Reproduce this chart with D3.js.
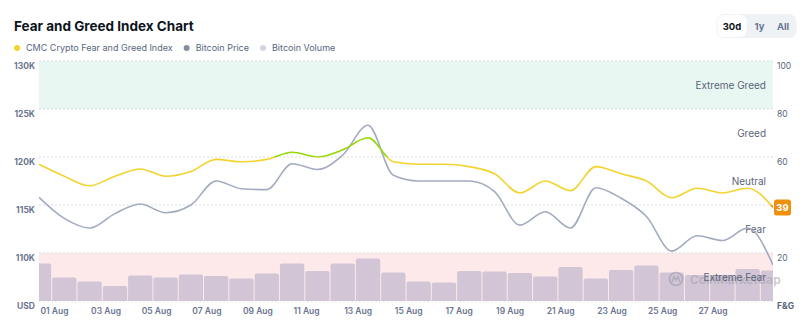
<!DOCTYPE html>
<html>
<head>
<meta charset="utf-8">
<script src="https://cdn.jsdelivr.net/npm/d3@7"></script>
<style>
  html, body { margin: 0; padding: 0; background: #fff; }
  svg { display: block; font-family: Inter, "Noto Sans", sans-serif; }
</style>
</head>
<body>
<svg id="chart" width="803" height="330"></svg>
<script>
// ---- data ----
const dates = ["2025-08-01","2025-08-02","2025-08-03","2025-08-04","2025-08-05","2025-08-06","2025-08-07","2025-08-08","2025-08-09","2025-08-10",
  "2025-08-11","2025-08-12","2025-08-13","2025-08-14","2025-08-15","2025-08-16","2025-08-17","2025-08-18","2025-08-19","2025-08-20",
  "2025-08-21","2025-08-22","2025-08-23","2025-08-24","2025-08-25","2025-08-26","2025-08-27","2025-08-28","2025-08-29","2025-08-30"];
const fearGreed = [57, 52, 48, 52, 55, 52, 54, 59, 58, 59, 62, 60, 63, 68, 58, 57, 57, 56, 53, 45, 50, 46, 56, 53, 50, 43, 47, 45, 47, 39];
const btcPrice = [115.8, 113.6, 112.6, 114.1, 115.1, 114.2, 115.0, 117.5, 116.7, 116.6, 119.3, 118.7, 120.2, 123.3, 118.1, 117.5, 117.5, 117.5, 116.4, 112.9,
  114.3, 112.6, 116.8, 115.7, 113.8, 110.2, 111.8, 111.3, 112.6, 108.75].map(v => v * 1000);
const btcVolumeB = [75, 47, 39, 30, 51, 47, 53, 50, 45, 55, 75, 60, 75, 85, 57, 39, 37, 60, 59, 56, 49, 68, 45, 62, 71, 57, 52, 52, 64, 61];
const priceTicks = [105000, 110000, 115000, 120000, 125000, 130000];
const fgTicks = [0, 20, 40, 60, 80, 100];
const zones = [
  { name: "Extreme Greed", lo: 80, hi: 100 },
  { name: "Greed", lo: 60, hi: 80 },
  { name: "Neutral", lo: 40, hi: 60 },
  { name: "Fear", lo: 20, hi: 40 },
  { name: "Extreme Fear", lo: 0, hi: 20 }
];
const legendItems = [
  { label: "CMC Crypto Fear and Greed Index", color: "#f3d42f" },
  { label: "Bitcoin Price", color: "#858ca2" },
  { label: "Bitcoin Volume", color: "#d3d7e3" }
];
const rangeButtons = ["30d", "1y", "All"];

// ---- layout ----
const svg = d3.select("#chart");
const L = 39, R = 773, T = 61, B = 301;
const parse = d3.utcParse("%Y-%m-%d");
const days = dates.map(parse);

const x = d3.scaleUtc().domain([days[0], days[days.length - 1]]).range([L, R]);
const yP = d3.scaleLinear().domain([105000, 130000]).range([B, T]);
const yF = d3.scaleLinear().domain([0, 100]).range([B, T]);
const yV = d3.scaleLinear().domain([0, 100]).range([B, B - 50]);
const last = fearGreed[fearGreed.length - 1];

// title
svg.append("text").attr("x", 14).attr("y", 31).text("Fear and Greed Index Chart")
  .attr("font-size", 13.5).attr("font-weight", 700).attr("fill", "#0d1421");

// legend
let lx = 17;
const legG = svg.append("g");
legendItems.forEach(it => {
  legG.append("circle").attr("cx", lx).attr("cy", 48).attr("r", 3).attr("fill", it.color);
  const t = legG.append("text").attr("x", lx + 9).attr("y", 51.2).text(it.label)
    .attr("font-size", 9).attr("fill", "#58667e");
  lx = lx + 9 + t.node().getComputedTextLength() + 14;
});

// range buttons
svg.append("rect").attr("x", 716.5).attr("y", 14).attr("width", 80).attr("height", 24).attr("rx", 7).attr("fill", "#eff2f5");
svg.append("rect").attr("x", 717.5).attr("y", 15).attr("width", 29).attr("height", 22).attr("rx", 6).attr("fill", "#fff");
const btnX = [732, 759.5, 783];
rangeButtons.forEach((b, i) => {
  svg.append("text").attr("x", btnX[i]).attr("y", 29.5).attr("text-anchor", "middle").text(b)
    .attr("font-size", 9.5).attr("font-weight", 700).attr("fill", i === 0 ? "#0d1421" : "#6b7693");
});

// zone bands
svg.append("rect").attr("x", L).attr("y", yF(100)).attr("width", R - L).attr("height", yF(80) - yF(100)).attr("fill", "#e8f7f1");
svg.append("rect").attr("x", L).attr("y", yF(20)).attr("width", R - L).attr("height", yF(0) - yF(20)).attr("fill", "#fde9ea");

// grid lines
svg.append("g").selectAll("line").data(fgTicks).join("line")
  .attr("x1", L).attr("x2", R).attr("y1", d => yF(d)).attr("y2", d => yF(d))
  .attr("stroke", "#d9dce3").attr("stroke-dasharray", "2,2").attr("stroke-width", 1);

// clip
svg.append("clipPath").attr("id", "plotclip").append("rect").attr("x", L).attr("y", T - 5).attr("width", R - L).attr("height", B - T + 5);

// volume bars
const step = x(days[1]) - x(days[0]);
const barG = svg.append("g").attr("clip-path", "url(#plotclip)");
barG.selectAll("path").data(days).join("path")
  .attr("d", (d, i) => {
    const x0 = x(d) - step / 2 + 0.5, x1 = x(d) + step / 2 - 0.5;
    const y0 = yV(btcVolumeB[i]), r = 2;
    return `M${x0},${B} V${y0 + r} Q${x0},${y0} ${x0 + r},${y0} H${x1 - r} Q${x1},${y0} ${x1},${y0 + r} V${B} Z`;
  })
  .attr("fill", "#d2c6d6");

// watermark (logo mark + name, behind the zone label as in the original)
const wm = svg.append("g").attr("opacity", 0.6);
wm.append("circle").attr("cx", 676).attr("cy", 279).attr("r", 6.5).attr("fill", "none").attr("stroke", "#9a98a8").attr("stroke-width", 1.6);
wm.append("path").attr("d", "M672,282 L674,276.5 L676,280 L678,276.5 L680,282").attr("fill", "none").attr("stroke", "#9a98a8").attr("stroke-width", 1.4);
wm.append("text").attr("x", 690).attr("y", 283.5).text("CoinMarketCap").attr("font-size", 12).attr("font-weight", 600).attr("fill", "#a6a4b3");

// zone labels
svg.append("g").selectAll("text").data(zones).join("text")
  .attr("x", 766).attr("y", d => (yF(d.lo) + yF(d.hi)) / 2 + 3.5).attr("text-anchor", "end")
  .text(d => d.name).attr("font-size", 10).attr("fill", "#5b6479");

// price line
const priceLine = d3.line().x((d, i) => x(days[i])).y(d => yP(d)).curve(d3.curveMonotoneX);
svg.append("path").datum(btcPrice).attr("d", priceLine).attr("fill", "none")
  .attr("stroke", "#a3abc0").attr("stroke-width", 1.6).attr("clip-path", "url(#plotclip)");

// F&G gradient line
const grad = svg.append("defs").append("linearGradient").attr("id", "fggrad")
  .attr("gradientUnits", "userSpaceOnUse").attr("x1", 0).attr("x2", 0).attr("y1", yF(100)).attr("y2", yF(0));
const gstops = [[80, "#16c784"], [60, "#93d900"], [40, "#f3d42f"], [20, "#f39a1a"], [0, "#ea3943"]];
gstops.forEach(([v, c]) => {
  const hi = v + 20;
  grad.append("stop").attr("offset", (100 - hi) / 100).attr("stop-color", c);
  grad.append("stop").attr("offset", (100 - v) / 100).attr("stop-color", c);
});
const fgLine = d3.line().x((d, i) => x(days[i])).y(d => yF(d)).curve(d3.curveMonotoneX);
svg.append("path").datum(fearGreed).attr("d", fgLine).attr("fill", "none")
  .attr("stroke", "url(#fggrad)").attr("stroke-width", 1.6);

// axes
const leftAxis = d3.axisLeft(yP).tickValues(priceTicks).tickSize(0).tickPadding(4)
  .tickFormat(d => d === 105000 ? "USD" : (d / 1000) + "K");
const gl = svg.append("g").attr("transform", `translate(${L},0)`).call(leftAxis);
// the 40 label sits under the latest-value badge in the original, so it is left blank
const rightAxis = d3.axisRight(yF).tickValues(fgTicks).tickSize(0).tickPadding(4)
  .tickFormat(d => d === 0 ? "F&G" : (Math.abs(yF(d) - yF(last)) < 12 ? "" : d));
const gr = svg.append("g").attr("transform", `translate(${R},0)`).call(rightAxis);
[gl, gr].forEach(g => {
  g.select(".domain").remove();
  g.selectAll("text").attr("dy", "0.9em").attr("font-size", 8.5).attr("font-weight", 700)
    .attr("fill", "#6b7590").attr("font-family", "Inter, sans-serif");
});
gr.selectAll("text").attr("font-weight", d => d === 0 ? 700 : 400).attr("fill", "#58667e");

const xTicks = days.filter((d, i) => i % 2 === 0 && i < 28);
const bottomAxis = d3.axisBottom(x).tickValues(xTicks).tickSize(0).tickPadding(7)
  .tickFormat(d3.utcFormat("%d %b"));
const gb = svg.append("g").attr("transform", `translate(0,${B})`).call(bottomAxis);
gb.select(".domain").remove();
gb.selectAll("text").attr("text-anchor", "start").attr("dx", 1).attr("font-size", 8.5).attr("font-weight", 600)
  .attr("fill", "#6b7590").attr("font-family", "Inter, sans-serif");

// badge for latest value
const by = yF(last);
svg.append("rect").attr("x", R + 1).attr("y", by - 8).attr("width", 17).attr("height", 16).attr("rx", 2.5).attr("fill", "#f0900f");
svg.append("text").attr("x", R + 9.5).attr("y", by + 3.5).attr("text-anchor", "middle").text(last)
  .attr("font-size", 9.5).attr("font-weight", 700).attr("fill", "#fff");
</script>
</body>
</html>
